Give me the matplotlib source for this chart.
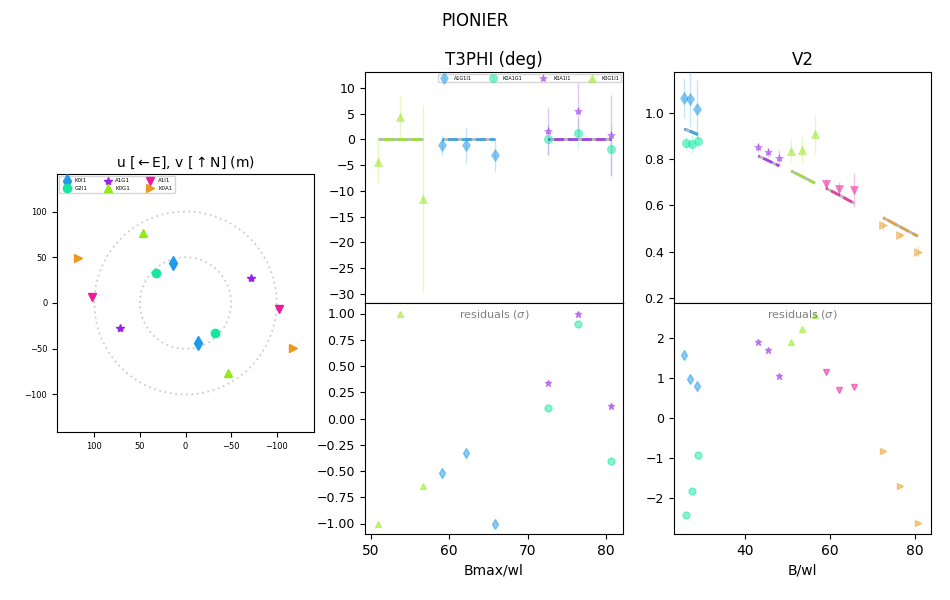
import numpy as np
import matplotlib
matplotlib.use("Agg")
import matplotlib.pyplot as plt

# colours and markers per baseline / triangle
BLUE = "#1f9bea"
GREEN = "#14e8a0"
PURPLE = "#9a1ff0"
LIME = "#97e81a"
PINK = "#ee1a9b"
ORANGE = "#ea9a22"

# u,v coverage (m), the mirrored points are drawn with -u,-v
uv_names = ["K0I1", "G2I1", "A1G1", "K0G1", "A1I1", "K0A1"]
uv_u = [14, 32, 72, 46.5, 103, 118]
uv_v = [44, 33, -27.5, 76, 7, 49]
uv_markers = ["d", "o", "*", "^", "v", ">"]
uv_colors = [BLUE, GREEN, PURPLE, LIME, PINK, ORANGE]

# T3PHI
t3_names = ["A1G1I1", "K0A1G1", "K0A1I1", "K0G1I1"]
t3_x = [[59.1, 62.2, 65.8], [72.6, 76.4, 80.6], [72.6, 76.4, 80.6], [50.9, 53.7, 56.7]]
t3_y = [[-1.1, -1.1, -3.1], [0.0, 1.2, -1.9], [1.6, 5.5, 0.8], [-4.3, 4.3, -11.6]]
t3_err = [[2.0, 3.6, 3.0], [3.0, 3.0, 5.0], [4.6, 5.5, 7.8], [4.2, 4.3, 18.3]]
t3_model = [[0.0, 0.0, 0.0], [0.0, 0.0, 0.0], [0.0, 0.0, 0.0], [0.0, 0.0, 0.0]]
t3_res = [[-0.52, -0.33, -1.0], [0.10, 0.90, -0.40], [0.34, 1.0, 0.12], [-1.0, 1.0, -0.64]]
t3_markers = ["d", "o", "*", "^"]
t3_colors = [BLUE, GREEN, PURPLE, LIME]

# V2
v2_x = [[25.85, 27.25, 28.9], [26.3, 27.7, 29.1], [43.2, 45.5, 48.1],
        [50.9, 53.5, 56.5], [59.1, 62.15, 65.7], [72.45, 76.4, 80.6]]
v2_y = [[1.064, 1.06, 1.017], [0.869, 0.865, 0.878], [0.852, 0.83, 0.804],
        [0.837, 0.841, 0.908], [0.693, 0.671, 0.667], [0.514, 0.47, 0.40]]
v2_err = [[0.087, 0.12, 0.125], [0.03, 0.04, 0.03], [0.02, 0.02, 0.035],
          [0.05, 0.055, 0.083], [0.02, 0.03, 0.072], [0.025, 0.012, 0.023]]
v2_model = [[0.93, 0.92, 0.908], [0.928, 0.918, 0.906], [0.814, 0.794, 0.771],
            [0.749, 0.725, 0.696], [0.674, 0.645, 0.609], [0.547, 0.508, 0.467]]
v2_res = [[1.57, 0.98, 0.80], [-2.42, -1.82, -0.92], [1.90, 1.70, 1.05],
          [1.90, 2.22, 2.58], [1.15, 0.70, 0.78], [-0.82, -1.70, -2.63]]
v2_markers = ["d", "o", "*", "^", "v", ">"]
v2_colors = [BLUE, GREEN, PURPLE, LIME, PINK, ORANGE]

W, H = 950, 600


def px_axes(x0, y0, x1, y1):
    # axes from pixel corners, y counted from the top
    return fig.add_axes([x0 / W, 1 - y1 / H, (x1 - x0) / W, (y1 - y0) / H])


def model_line(ax, x, y, color, z):
    ax.plot(x, y, color="0.72", lw=2, zorder=z, solid_capstyle="butt")
    ax.plot(x, y, color=color, lw=2, alpha=0.75, zorder=z + 0.1,
            ls=(3.0, (3.6, 1.4)), dash_capstyle="butt")


def data_points(ax, x, y, err, marker, color, label=None):
    cont = ax.errorbar(x, y, yerr=err, fmt=marker, color=color, alpha=0.55, ms=6, mew=0.4,
                       elinewidth=1, label=label, zorder=5)
    cont[2][0].set_alpha(0.25)


fig = plt.figure(figsize=(9.5, 6), dpi=100)
fig.text(0.5, 1 - 21 / H, "PIONIER", ha="center", va="center", fontsize=12)

# uv plane
ax = px_axes(57, 174, 314, 432)
ax.set_title(r"u [$\leftarrow$E], v [$\uparrow$N] (m)", fontsize=10, pad=5)
t = np.linspace(0, 2 * np.pi, 200)
for r in [50, 100]:
    ax.plot(r * np.cos(t), r * np.sin(t), color="k", alpha=0.2, lw=1.3, ls=(0, (1, 2.0)))
for i in range(len(uv_names)):
    ms = 7.5 if uv_markers[i] == "d" else 6
    ax.plot(uv_u[i], uv_v[i], uv_markers[i], color=uv_colors[i], ms=ms, label=uv_names[i])
    ax.plot(-uv_u[i], -uv_v[i], uv_markers[i], color=uv_colors[i], ms=ms)
ax.set_xlim(141, -141)
ax.set_ylim(-141, 141)
ax.set_xticks([100, 50, 0, -50, -100])
ax.set_yticks([-100, -50, 0, 50, 100])
ax.tick_params(labelsize=6)
ax.legend(loc="upper left", ncol=3, fontsize=4, borderaxespad=0.4, columnspacing=2.6,
          handletextpad=0.4, labelspacing=0.4)

# T3PHI panels
ax1 = px_axes(365, 72, 623, 303)
ax2 = px_axes(365, 303, 623, 534)
ax1.set_title("T3PHI (deg)", fontsize=12, pad=5)
for i in range(len(t3_names)):
    data_points(ax1, t3_x[i], t3_y[i], t3_err[i], t3_markers[i], t3_colors[i], t3_names[i])
    model_line(ax1, t3_x[i], t3_model[i], t3_colors[i], 3 + i)
    ax2.plot(t3_x[i], t3_res[i], t3_markers[i], color=t3_colors[i], alpha=0.5, ms=5)
ax1.set_xlim(49.27, 82.17)
ax1.set_ylim(-31.75, 13.1)
ax1.set_xticks([])
ax1.set_yticks([-30, -25, -20, -15, -10, -5, 0, 5, 10])
ax1.tick_params(labelsize=9)
ax1.legend(loc="upper right", ncol=4, fontsize=3.5, borderaxespad=0.5, columnspacing=3.3,
           handletextpad=1.0, borderpad=0.3)
ax2.set_xlim(49.27, 82.17)
ax2.set_ylim(-1.1, 1.1)
ax2.set_xticks([50, 60, 70, 80])
ax2.tick_params(axis="x", labelsize=10)
ax2.tick_params(axis="y", labelsize=9)
ax2.set_xlabel("Bmax/wl", fontsize=10)
ax2.text(0.5, 0.95, r"residuals ($\sigma$)", transform=ax2.transAxes, ha="center",
         va="center", fontsize=8, color="0.5")

# V2 panels
ax3 = px_axes(674, 72, 931, 303)
ax4 = px_axes(674, 303, 931, 534)
ax3.set_title("V2", fontsize=12, pad=5)
for i in range(len(v2_x)):
    data_points(ax3, v2_x[i], v2_y[i], v2_err[i], v2_markers[i], v2_colors[i])
    ax4.plot(v2_x[i], v2_res[i], v2_markers[i], color=v2_colors[i], alpha=0.5, ms=5)
    # the blue baseline sits on top of the green one
    model_line(ax3, v2_x[i], v2_model[i], v2_colors[i], 4 if i == 0 else 3)
ax3.set_xlim(23.45, 83.68)
ax3.set_ylim(0.178, 1.177)
ax3.set_xticks([])
ax3.set_yticks([0.2, 0.4, 0.6, 0.8, 1.0])
ax3.tick_params(labelsize=9)
ax4.set_xlim(23.45, 83.68)
ax4.set_ylim(-2.9, 2.875)
ax4.set_xticks([40, 60, 80])
ax4.set_yticks([-2, -1, 0, 1, 2])
ax4.tick_params(axis="x", labelsize=10)
ax4.tick_params(axis="y", labelsize=9)
ax4.set_xlabel("B/wl", fontsize=10)
ax4.text(0.5, 0.95, r"residuals ($\sigma$)", transform=ax4.transAxes, ha="center",
         va="center", fontsize=8, color="0.5")

fig.savefig("out.png", dpi=100)
